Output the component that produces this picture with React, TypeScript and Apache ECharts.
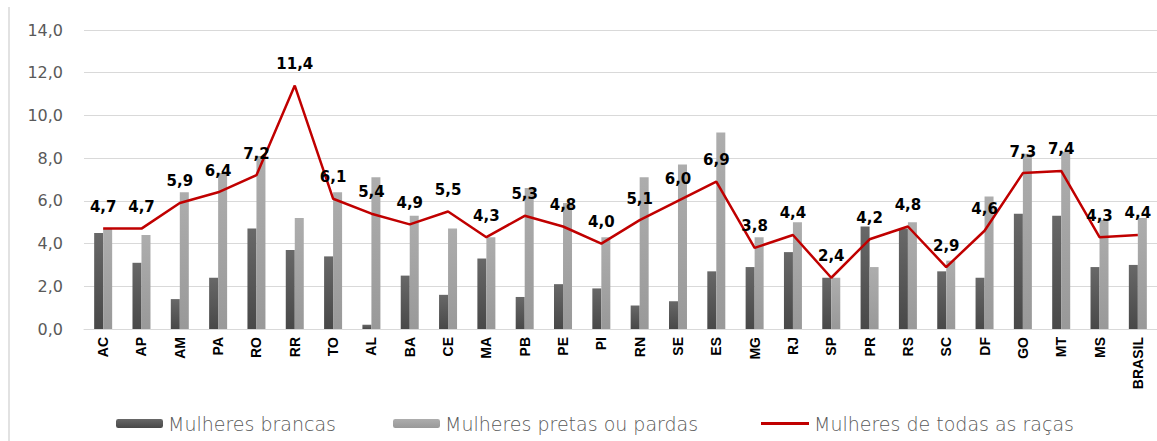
import React, { useEffect, useRef } from "react";
import * as echarts from "echarts";

const categories = ["AC","AP","AM","PA","RO","RR","TO","AL","BA","CE","MA","PB","PE","PI","RN","SE","ES","MG","RJ","SP","PR","RS","SC","DF","GO","MT","MS","BRASIL"];
const brancas = [4.5,3.1,1.4,2.4,4.7,3.7,3.4,0.2,2.5,1.6,3.3,1.5,2.1,1.9,1.1,1.3,2.7,2.9,3.6,2.4,4.8,4.7,2.7,2.4,5.4,5.3,2.9,3.0];
const pretasPardas = [4.7,4.4,6.4,7.3,8.1,5.2,6.4,7.1,5.3,4.7,4.3,6.6,5.9,4.3,7.1,7.7,9.2,4.3,5.0,2.4,2.9,5.0,3.2,6.2,8.2,8.3,5.1,5.2];
const todas = [4.7,4.7,5.9,6.4,7.2,11.4,6.1,5.4,4.9,5.5,4.3,5.3,4.8,4.0,5.1,6.0,6.9,3.8,4.4,2.4,4.2,4.8,2.9,4.6,7.3,7.4,4.3,4.4];
const seriesNames = ["Mulheres brancas", "Mulheres pretas ou pardas", "Mulheres de todas as raças"];

const fmt = (v: number) => v.toFixed(1).replace(".", ",");

export default function App() {
  const ref = useRef<HTMLDivElement>(null);
  useEffect(() => {
    if (!ref.current) return;
    const chart = echarts.init(ref.current, null, { renderer: "svg" });
    const legendText = { color: "#595959", fontSize: 19, fontFamily: "DejaVu Sans", fontWeight: 300 };
    chart.setOption({
      animation: false,
      backgroundColor: "#ffffff",
      grid: { left: 84, right: -2, top: 30, bottom: 112 },
      legend: [
        { data: [seriesNames[0]], left: 111, top: 409, itemWidth: 47, itemHeight: 9, itemGap: 0, textStyle: legendText },
        { data: [seriesNames[1]], left: 388, top: 409, itemWidth: 47, itemHeight: 9, textStyle: legendText },
        {
          data: [{ name: seriesNames[2], icon: "rect", itemStyle: { color: "#c00000" } }],
          left: 756,
          top: 409,
          itemWidth: 48,
          itemHeight: 3,
          textStyle: legendText,
        },
      ],
      xAxis: {
        type: "category",
        data: categories,
        axisLine: { lineStyle: { color: "#d9d9d9", width: 1 } },
        axisTick: { show: false },
        axisLabel: {
          rotate: 90,
          interval: 0,
          margin: 8,
          color: "#000000",
          fontSize: 14,
          fontWeight: "bold",
          fontFamily: "Liberation Sans",
        },
      },
      yAxis: {
        type: "value",
        min: 0,
        max: 14,
        interval: 2,
        axisLine: { show: false },
        axisTick: { show: false },
        splitLine: { lineStyle: { color: "#d9d9d9", width: 1 } },
        axisLabel: {
          formatter: (v: number) => fmt(v),
          color: "#595959",
          fontSize: 16,
          fontFamily: "DejaVu Sans",
          margin: 21,
        },
      },
      series: [
        {
          name: seriesNames[0],
          type: "bar",
          data: brancas,
          barWidth: 9,
          barGap: "0%",
          itemStyle: {
            color: new echarts.graphic.LinearGradient(0, 0, 0, 1, [
              { offset: 0, color: "#686868" },
              { offset: 1, color: "#484848" },
            ]),
          },
        },
        {
          name: seriesNames[1],
          type: "bar",
          data: pretasPardas,
          barWidth: 9,
          barGap: "0%",
          itemStyle: {
            color: new echarts.graphic.LinearGradient(0, 0, 0, 1, [
              { offset: 0, color: "#adadad" },
              { offset: 1, color: "#999999" },
            ]),
          },
        },
        {
          name: seriesNames[2],
          type: "line",
          data: todas,
          symbol: "circle",
          symbolSize: 0.1,
          showSymbol: true,
          lineStyle: { color: "#c00000", width: 2.5 },
          itemStyle: { color: "#c00000" },
          label: {
            show: true,
            position: "top",
            distance: 14,
            formatter: (p: any) => fmt(p.value),
            color: "#000000",
            fontSize: 15,
            fontWeight: "bold",
            fontFamily: "DejaVu Sans",
          },
          labelLayout: { hideOverlap: false },
          z: 5,
        },
      ],
      graphic: [
        {
          type: "line",
          shape: { x1: 9, y1: 7, x2: 9, y2: 441 },
          style: { stroke: "#d9d9d9", lineWidth: 1.5 },
        },
      ],
    });
    return () => chart.dispose();
  }, []);
  return (
    <div
      ref={ref}
      style={{ position: "fixed", left: 0, top: 0, width: 1157, height: 441, background: "#fff" }}
    />
  );
}
